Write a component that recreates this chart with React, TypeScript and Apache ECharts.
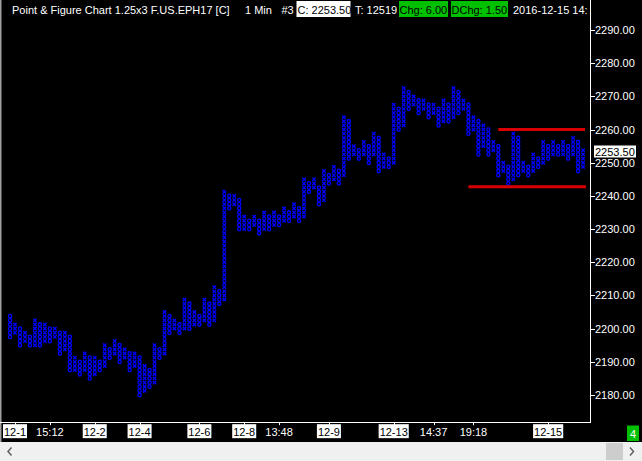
import React, { useEffect, useRef } from 'react';
import * as echarts from 'echarts';

// ---------- data ----------
const boxSize = 1.25;
const firstColumnIsX = false; // first column is a column of O's, then they alternate

const colHigh = [
  2203.75, 2201.25, 2200, 2198.75, 2197.5, 2202.5, 2201.25, 2201.25, 2200, 2200,
  2198.75, 2198.75, 2197.5, 2191.25, 2190, 2192.5, 2191.25, 2191.25, 2190, 2195,
  2193.75, 2196.25, 2195, 2193.75, 2192.5, 2192.5, 2191.25, 2188.75, 2187.5, 2195,
  2193.75, 2205, 2203.75, 2202.5, 2201.25, 2208.75, 2207.5, 2205, 2203.75, 2208.75,
  2207.5, 2212.5, 2211.25, 2241.25, 2240, 2240, 2238.75, 2233.75, 2232.5, 2233.75,
  2232.5, 2235, 2233.75, 2235, 2233.75, 2236.25, 2235, 2237.5, 2236.25, 2245,
  2243.75, 2245, 2242.5, 2247.5, 2246.25, 2248.75, 2247.5, 2263.75, 2262.5, 2255,
  2253.75, 2256.25, 2255, 2258.75, 2257.5, 2252.5, 2251.25, 2267.5, 2266.25, 2272.5,
  2271.25, 2270, 2268.75, 2268.75, 2267.5, 2267.5, 2266.25, 2268.75, 2267.5, 2272.5,
  2271.25, 2268.75, 2267.5, 2263.75, 2262.5, 2261.25, 2260, 2256.25, 2255, 2250,
  2248.75, 2258.75, 2257.5, 2250, 2248.75, 2252.5, 2251.25, 2256.25, 2255, 2256.25,
  2255, 2256.25, 2255, 2257.5, 2256.25, 2253.75,
];

const colLow = [
  2197.5, 2198.75, 2195, 2196.25, 2195, 2195, 2195, 2196.25, 2196.25, 2197.5,
  2192.5, 2193.75, 2187.5, 2187.5, 2186.25, 2187.5, 2185, 2186.25, 2187.5, 2188.75,
  2191.25, 2192.5, 2190, 2191.25, 2187.5, 2188.75, 2180, 2181.25, 2182.5, 2183.75,
  2191.25, 2192.5, 2198.75, 2200, 2198.75, 2200, 2200, 2201.25, 2201.25, 2202.5,
  2201.25, 2202.5, 2207.5, 2208.75, 2236.25, 2237.5, 2230, 2230, 2230, 2231.25,
  2228.75, 2230, 2230, 2231.25, 2231.25, 2232.5, 2232.5, 2233.75, 2232.5, 2233.75,
  2241.25, 2242.5, 2237.5, 2238.75, 2243.75, 2245, 2243.75, 2246.25, 2251.25, 2252.5,
  2251.25, 2252.5, 2250, 2252.5, 2247.5, 2248.75, 2248.75, 2250, 2260, 2261.25,
  2266.25, 2267.5, 2265, 2266.25, 2263.75, 2265, 2261.25, 2262.5, 2262.5, 2263.75,
  2265, 2266.25, 2258.75, 2260, 2252.5, 2255, 2252.5, 2253.75, 2246.25, 2247.5,
  2243.75, 2245, 2246.25, 2247.5, 2246.25, 2247.5, 2248.75, 2250, 2251.25, 2252.5,
  2252.5, 2252.5, 2251.25, 2252.5, 2247.5, 2248.75,
];

const xLabelCols = [1, 8, 17, 26, 38, 47, 54, 64, 77, 85, 93, 108];
const xLabelTexts = ['12-1', '15:12', '12-2', '12-4', '12-6', '12-8', '13:48', '12-9', '12-13', '14:37', '19:18', '12-15'];
const yTicks = [2180, 2190, 2200, 2210, 2220, 2230, 2240, 2250, 2260, 2270, 2280, 2290];
const lastPrice = 2253.5;
const supportFrom = [98, 92];
const supportTo = [115.4, 115.6];
const supportPrice = [2260, 2242.75];

const titleMain = 'Point & Figure Chart 1.25x3 F.US.EPH17 [C]';
const titleInterval = '1 Min';
const titleNum = '#3';
const titleClose = 'C: 2253.50';
const titleTicks = 'T: 12519';
const titleChg = 'Chg: 6.00';
const titleDChg = 'DChg: 1.50';
const titleTime = '2016-12-15 14:';
const cornerLabel = '4';

// ---------- styles ----------
const FONT = '"Liberation Sans", Arial, sans-serif';
const BLUE = '#0000ff';
const GREEN = '#00c000';
const Y_MIN = 2170;
const Y_MAX = 2295;
const X_MIN = -1;
const X_MAX = 116.6;

export default function App() {
  const ref = useRef<HTMLDivElement>(null);

  useEffect(() => {
    if (!ref.current) return;
    const chart = echarts.init(ref.current, undefined, { renderer: 'svg' });

    const columns = colHigh.map((h, i) => {
      const isX = (i % 2 === 1) !== firstColumnIsX;
      return [i, colLow[i], h, isX ? 1 : 0];
    });
    const labelMap = new Map<number, string>();
    xLabelCols.forEach((c, k) => labelMap.set(c, xLabelTexts[k]));

    const txt = (x: number, y: number, text: string, fill: string, extra: any = {}) => ({
      type: 'text',
      x,
      y,
      z: 10,
      style: { text, fill, font: `11px ${FONT}`, verticalAlign: 'middle', align: 'left', ...extra },
    });
    const rect = (x: number, y: number, w: number, h: number, fill: string) => ({
      type: 'rect',
      z: 9,
      shape: { x, y, width: w, height: h },
      style: { fill },
    });

    const option: any = {
      animation: false,
      backgroundColor: '#000000',
      grid: { left: 3, right: 51, top: 13.41, bottom: 32.82, containLabel: false },
      xAxis: {
        type: 'value',
        min: X_MIN,
        max: X_MAX,
        interval: 1,
        axisLine: { show: false },
        axisTick: { show: false },
        splitLine: { show: false },
        axisLabel: {
          margin: -3,
          formatter: (v: number) => {
            const t = labelMap.get(Math.round(v));
            if (!t || Math.abs(v - Math.round(v)) > 1e-6) return '';
            return t.indexOf(':') >= 0 ? `{t|${t}}` : `{d|${t}}`;
          },
          rich: {
            d: { backgroundColor: '#ffffff', color: '#000000', fontSize: 11, fontFamily: FONT, padding: [2, 1, 1, 1], lineHeight: 12 },
            t: { color: '#ffffff', fontSize: 11, fontFamily: FONT, padding: [2, 1, 1, 1], lineHeight: 12 },
          },
        },
      },
      yAxis: {
        type: 'value',
        position: 'right',
        min: Y_MIN,
        max: Y_MAX,
        interval: 10,
        axisLine: { show: false },
        axisTick: { show: false },
        splitLine: { show: false },
        axisLabel: {
          color: '#ffffff',
          fontSize: 11,
          fontFamily: FONT,
          margin: 4,
          formatter: (v: number) => (yTicks.some((t) => Math.abs(t - v) < 1e-6) ? v.toFixed(2) : ''),
        },
      },
      series: [
        {
          type: 'custom',
          name: 'pnf',
          data: columns,
          encode: { x: 0, y: [1, 2] },
          clip: true,
          renderItem: (params: any, api: any) => {
            const i = api.value(0);
            const lo = api.value(1);
            const hi = api.value(2);
            const isX = api.value(3) === 1;
            const n = Math.round((hi - lo) / boxSize) + 1;
            const children: any[] = [];
            for (let k = 0; k < n; k++) {
              const p = api.coord([i, lo + k * boxSize]);
              const cx = p[0];
              const cy = p[1];
              if (isX) {
                children.push({ type: 'line', shape: { x1: cx - 1.7, y1: cy - 1.7, x2: cx + 1.7, y2: cy + 1.7 }, style: { stroke: BLUE, lineWidth: 1.35 } });
                children.push({ type: 'line', shape: { x1: cx - 1.7, y1: cy + 1.7, x2: cx + 1.7, y2: cy - 1.7 }, style: { stroke: BLUE, lineWidth: 1.35 } });
              } else {
                children.push({ type: 'ellipse', shape: { cx, cy, rx: 1.6, ry: 1.75 }, style: { fill: 'none', stroke: BLUE, lineWidth: 1.3 } });
              }
            }
            return { type: 'group', children };
          },
        },
        {
          type: 'custom',
          name: 'support',
          data: supportPrice.map((p, k) => [supportFrom[k], supportTo[k], p]),
          encode: { x: [0, 1], y: 2 },
          clip: false,
          z: 3,
          renderItem: (params: any, api: any) => {
            const a = api.coord([api.value(0), api.value(2)]);
            const b = api.coord([api.value(1), api.value(2)]);
            return {
              type: 'line',
              shape: { x1: a[0], y1: a[1], x2: b[0], y2: b[1] },
              style: { stroke: '#d80000', lineWidth: 3 },
            };
          },
        },
        {
          type: 'custom',
          name: 'xticks',
          data: xLabelCols.map((c) => [c, Y_MIN]),
          encode: { x: 0, y: 1 },
          clip: false,
          renderItem: (params: any, api: any) => {
            const x = Math.round(api.coord([api.value(0), api.value(1)])[0]) + 0.5;
            const bottom = params.coordSys.y + params.coordSys.height;
            return {
              type: 'line',
              shape: { x1: x, y1: bottom - 6, x2: x, y2: bottom - 3 },
              style: { stroke: '#ffffff', lineWidth: 1 },
            };
          },
        },
        {
          type: 'custom',
          name: 'yticks',
          data: yTicks.map((v) => [X_MAX, v]),
          encode: { x: 0, y: 1 },
          clip: false,
          renderItem: (params: any, api: any) => {
            const y = Math.round(api.coord([api.value(0), api.value(1)])[1]) + 0.5;
            const x = params.coordSys.x + params.coordSys.width;
            return {
              type: 'line',
              shape: { x1: x, y1: y, x2: x + 4, y2: y },
              style: { stroke: '#ffffff', lineWidth: 1 },
            };
          },
        },
        {
          type: 'custom',
          name: 'last',
          data: [[X_MAX, lastPrice]],
          encode: { x: 0, y: 1 },
          clip: false,
          z: 5,
          renderItem: (params: any, api: any) => {
            const y = api.coord([api.value(0), api.value(1)])[1];
            const x = params.coordSys.x + params.coordSys.width;
            return {
              type: 'group',
              children: [
                { type: 'rect', shape: { x: x + 3, y: y - 5.5, width: 42, height: 12 }, style: { fill: '#ffffff' } },
                {
                  type: 'text',
                  style: {
                    text: api.value(1).toFixed(2),
                    x: x + 4,
                    y: y + 0.5,
                    fill: '#000000',
                    font: `11px ${FONT}`,
                    verticalAlign: 'middle',
                    align: 'left',
                  },
                },
              ],
            };
          },
        },
      ],
      graphic: [
        // frame
        { type: 'rect', z: 8, shape: { x: 0, y: 0, width: 1.5, height: 442 }, style: { fill: '#a0a0a0' } },
        { type: 'line', z: 8, shape: { x1: 590.5, y1: 0, x2: 590.5, y2: 422.5 }, style: { stroke: '#ffffff', lineWidth: 1 } },
        { type: 'line', z: 8, shape: { x1: 0, y1: 422.5, x2: 591, y2: 422.5 }, style: { stroke: '#ffffff', lineWidth: 1 } },
        // title bar
        txt(12, 9.5, titleMain, '#ffffff'),
        txt(245, 9.5, titleInterval, '#ffffff'),
        txt(281.5, 9.5, titleNum, '#ffffff'),
        rect(296.5, 1, 54, 16, '#ffffff'),
        txt(297.5, 9.5, titleClose, '#000000'),
        txt(355, 9.5, titleTicks, '#ffffff'),
        rect(399, 1, 49, 16, GREEN),
        txt(399.5, 9.5, titleChg, '#000000'),
        rect(451, 1, 57, 16, GREEN),
        txt(451.5, 9.5, titleDChg, '#000000'),
        txt(513, 9.5, titleTime, '#ffffff'),
        // corner box
        rect(627, 425.5, 12, 15.5, GREEN),
        txt(630, 433.5, cornerLabel, '#ffffff'),
        // scrollbar
        rect(0, 442, 642, 19, '#f0f0f0'),
        rect(606, 443, 17, 17, '#cdcdcd'),
        { type: 'polyline', z: 10, shape: { points: [[11.5, 447.5], [8, 451.5], [11.5, 455.5]] }, style: { stroke: '#606060', lineWidth: 1.5, fill: 'none' } },
        { type: 'polyline', z: 10, shape: { points: [[630, 447.5], [633.5, 451.5], [630, 455.5]] }, style: { stroke: '#606060', lineWidth: 1.5, fill: 'none' } },
      ],
    };

    chart.setOption(option);
    return () => chart.dispose();
  }, []);

  return (
    <div
      ref={ref}
      style={{ position: 'fixed', left: 0, top: 0, width: 642, height: 461, background: '#000' }}
    />
  );
}
